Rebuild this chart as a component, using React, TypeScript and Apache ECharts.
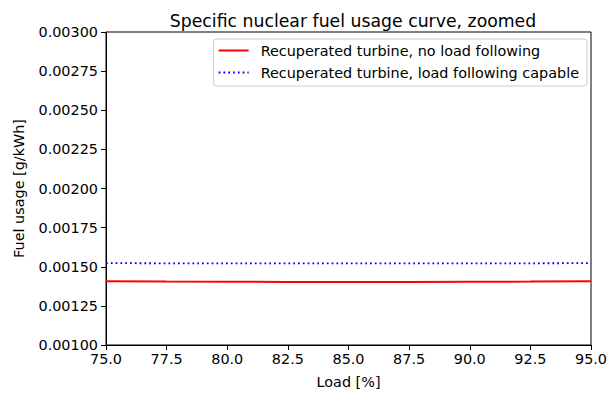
import React, { useEffect, useRef } from "react";
import * as echarts from "echarts";

const loads = [75, 77.5, 80, 82.5, 85, 87.5, 90, 92.5, 95];
const noLoadFollowing = [0.001407, 0.001405, 0.001404, 0.001403, 0.001403, 0.001403, 0.001404, 0.001405, 0.001407];
const loadFollowing = [0.001523, 0.001522, 0.001522, 0.001522, 0.001522, 0.001522, 0.001522, 0.001522, 0.001523];
const seriesNames = ["Recuperated turbine, no load following", "Recuperated turbine, load following capable"];

const FONT = "DejaVu Sans";
const FS = 14.4;

export default function App() {
  const ref = useRef<HTMLDivElement>(null);
  useEffect(() => {
    const chart = echarts.init(ref.current!, null, { renderer: "svg" });
    chart.setOption({
      animation: false,
      backgroundColor: "#fff",
      title: {
        text: "Specific nuclear fuel usage curve, zoomed",
        left: 348,
        top: 7,
        textAlign: "center",
        textStyle: { fontFamily: FONT, fontSize: 17.3, fontWeight: "normal", color: "#000" },
      },
      grid: { left: 106, right: 21, top: 32, bottom: 47, show: true, borderColor: "#000", borderWidth: 1, backgroundColor: "transparent" },
      legend: {
        orient: "vertical",
        right: 25,
        top: 39,
        padding: [3, 8, 5, 4],
        itemGap: 5,
        itemWidth: 30,
        itemHeight: 12,
        borderColor: "#ccc",
        borderWidth: 1,
        borderRadius: 3,
        itemStyle: { opacity: 0 },
        textStyle: { fontFamily: FONT, fontSize: FS, color: "#000", lineHeight: 17, padding: [0, 0, 0, 7] },
        data: seriesNames,
      },
      xAxis: {
        type: "value",
        min: 75,
        max: 95,
        interval: 2.5,
        name: "Load [%]",
        nameLocation: "middle",
        nameGap: 30,
        nameTextStyle: { fontFamily: FONT, fontSize: FS, color: "#000" },
        axisLine: { lineStyle: { color: "#000" } },
        axisTick: { length: 5, lineStyle: { color: "#000" } },
        axisLabel: { fontFamily: FONT, fontSize: FS, color: "#000", margin: 7, formatter: (v: number) => v.toFixed(1) },
        splitLine: { show: false },
      },
      yAxis: {
        type: "value",
        min: 0.001,
        max: 0.003,
        interval: 0.00025,
        name: "Fuel usage [g/kWh]",
        nameLocation: "middle",
        nameGap: 80,
        nameTextStyle: { fontFamily: FONT, fontSize: FS, color: "#000" },
        axisLine: { lineStyle: { color: "#000" } },
        axisTick: { length: 5, lineStyle: { color: "#000" } },
        axisLabel: { fontFamily: FONT, fontSize: FS, color: "#000", margin: 8, formatter: (v: number) => v.toFixed(5) },
        splitLine: { show: false },
      },
      series: [
        {
          name: seriesNames[0],
          type: "line",
          symbol: "none",
          data: loads.map((x, i) => [x, noLoadFollowing[i]]),
          lineStyle: { color: "#ff0000", width: 2 },
          itemStyle: { color: "#ff0000" },
        },
        {
          name: seriesNames[1],
          type: "line",
          symbol: "none",
          data: loads.map((x, i) => [x, loadFollowing[i]]),
          lineStyle: { color: "#0000ff", width: 1.8, type: [1.8, 3] },
          itemStyle: { color: "#0000ff" },
        },
      ],
    });
    return () => chart.dispose();
  }, []);
  return <div ref={ref} style={{ width: 612, height: 394, position: "absolute", left: 0, top: 0 }} />;
}
